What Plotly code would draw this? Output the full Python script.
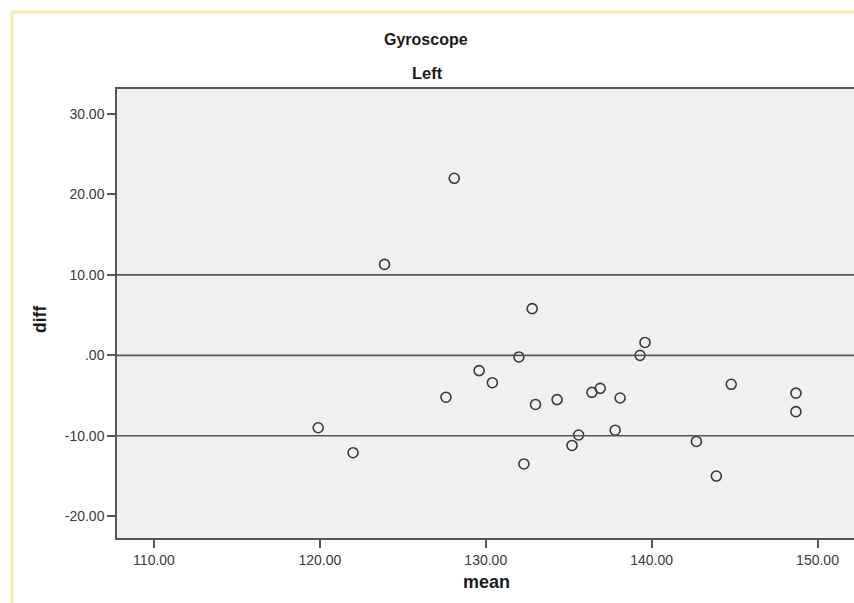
import plotly.graph_objects as go

# Bland-Altman style data: mean of the two measurements vs. their difference
mean_vals = [119.9, 122.0, 123.9, 128.1, 127.6, 129.6, 130.4, 132.0, 132.8, 133.0,
             132.3, 134.3, 135.6, 135.2, 136.4, 136.9, 138.1, 137.8, 139.3, 139.6,
             142.7, 143.9, 144.8, 148.7, 148.7]
diff_vals = [-9.0, -12.1, 11.3, 22.0, -5.2, -1.9, -3.4, -0.2, 5.8, -6.1,
             -13.5, -5.5, -9.9, -11.2, -4.6, -4.1, -5.3, -9.3, 0.0, 1.6,
             -10.7, -15.0, -3.6, -4.7, -7.0]

# Reference lines: upper limit, mean difference, lower limit
ref_lines = [10.0, 0.0, -10.0]

x_ticks = [110, 120, 130, 140, 150]
x_tick_text = ["110.00", "120.00", "130.00", "140.00", "150.00"]
y_ticks = [30, 20, 10, 0, -10, -20]
y_tick_text = ["30.00", "20.00", "10.00", ".00", "-10.00", "-20.00"]

W, H = 854, 603
L, R, T, B = 117, 0, 89, 65
pw, ph = W - L - R, H - T - B

def px_x(p):
    return (p - L) / pw

def px_y(p):
    return (H - B - p) / ph

fig = go.Figure()
fig.add_trace(go.Scatter(
    x=mean_vals, y=diff_vals, mode="markers",
    marker=dict(symbol="circle-open", size=10, color="#3a3a3a",
                line=dict(width=1.6, color="#3a3a3a")),
    hoverinfo="x+y", showlegend=False,
))

shapes = []
for v in ref_lines:
    shapes.append(dict(type="line", xref="paper", yref="y", x0=0, x1=1, y0=v, y1=v,
                       line=dict(color="#555555", width=1.6), layer="above"))

# pale yellow frame around the chart
frame_col = "#f6eca8"
shapes.append(dict(type="line", xref="paper", yref="paper",
                   x0=px_x(12), x1=px_x(12), y0=px_y(12), y1=px_y(H + 5),
                   line=dict(color=frame_col, width=3)))
shapes.append(dict(type="line", xref="paper", yref="paper",
                   x0=px_x(12), x1=px_x(W + 5), y0=px_y(12), y1=px_y(12),
                   line=dict(color=frame_col, width=3)))

font_family = "Liberation Sans, Arial, sans-serif"

def label(text, x, y, size, angle=0):
    return dict(text=text, xref="paper", yref="paper", x=px_x(x), y=px_y(y),
                xanchor="center", yanchor="middle", showarrow=False,
                textangle=angle,
                font=dict(size=size, color="#1a1a1a", family=font_family))

annotations = [
    label("<b>Gyroscope</b>", 426, 40, 16),
    label("<b>Left</b>", 427, 73, 16.5),
    label("<b>diff</b>", 40, 320, 17.5, -90),
    label("<b>mean</b>", 486, 582, 18),
]

fig.update_layout(
    width=W, height=H,
    margin=dict(l=L, r=R, t=T, b=B),
    paper_bgcolor="white", plot_bgcolor="#f0f0f0",
    shapes=shapes, annotations=annotations,
    font=dict(family=font_family, size=14, color="#333333"),
    xaxis=dict(range=[107.77, 152.2], tickvals=x_ticks, ticktext=x_tick_text,
               showgrid=False, zeroline=False, showline=True, mirror=True,
               linecolor="#555555", linewidth=1.5, ticks="outside",
               ticklen=8, tickwidth=1.5, tickcolor="#555555",
               tickfont=dict(size=14, color="#3a3a3a")),
    yaxis=dict(range=[-22.7, 33.1], tickvals=y_ticks, ticktext=y_tick_text,
               showgrid=False, zeroline=False, showline=True, mirror=False,
               linecolor="#555555", linewidth=1.5, ticks="outside",
               ticklen=8, tickwidth=1.5, tickcolor="#555555",
               tickfont=dict(size=14, color="#3a3a3a")),
)

fig.write_html("out.html")
